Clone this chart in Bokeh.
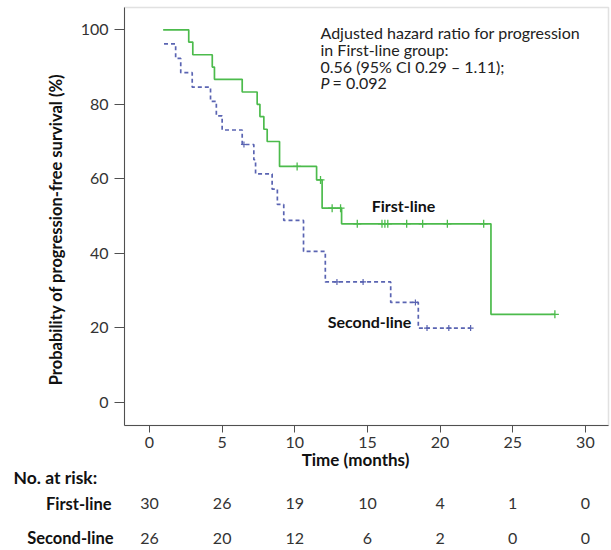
import math
from bokeh.plotting import figure
from bokeh.models import Range1d, FixedTicker, BoxAnnotation, ColumnDataSource
from bokeh.embed import file_html
from bokeh.resources import INLINE
from bokeh.core.properties import value

# ---------------- data ----------------
first_times = [0.94, 2.70, 2.98, 4.32, 4.47, 6.38, 7.41, 7.60, 7.87, 8.10, 8.95, 11.50, 11.88, 13.22, 23.50, 27.90]
first_surv = [100.0, 96.7, 93.3, 90.0, 86.7, 83.3, 80.0, 76.7, 73.3, 70.0, 63.3, 59.7, 52.1, 47.9, 23.6, 23.6]
first_cens_t = [10.16, 11.77, 12.57, 13.15, 14.30, 16.00, 16.20, 16.40, 17.70, 18.80, 20.50, 23.00, 27.90]
first_cens_s = [63.3, 59.7, 52.1, 52.1, 47.9, 47.9, 47.9, 47.9, 47.9, 47.9, 47.9, 47.9, 23.6]

second_times = [1.00, 1.80, 2.15, 2.94, 4.20, 4.60, 5.00, 6.38, 7.18, 7.30, 8.44, 8.80, 9.24, 10.60, 12.10, 16.60, 18.50, 22.10]
second_surv = [96.2, 92.3, 88.5, 84.6, 80.8, 76.9, 73.1, 69.2, 65.1, 61.3, 57.2, 53.1, 48.8, 40.5, 32.3, 26.8, 19.9, 19.9]
second_cens_t = [6.50, 12.90, 14.70, 18.30, 19.10, 20.60, 22.10]
second_cens_s = [69.2, 32.3, 32.3, 26.8, 19.9, 19.9, 19.9]

x_ticks = [0, 5, 10, 15, 20, 25, 30]
y_ticks = [0, 20, 40, 60, 80, 100]

risk_times = [0, 5, 10, 15, 20, 25, 30]
first_risk = [30, 26, 19, 10, 4, 1, 0]
second_risk = [26, 20, 12, 6, 2, 0, 0]
risk_groups = ["First-line", "Second-line"]

x_title = "Time (months)"
y_title = "Probability of progression-free survival (%)"
risk_title = "No. at risk:"
annotation_lines = ["Adjusted hazard ratio for progression", "in First-line group:", "0.56 (95% CI 0.29 \u2013 1.11);"]
p_label = "P"
p_value = "= 0.092"

# ---------------- styling / layout ----------------
FONT = "Lato"
GREEN = "#4cbb4c"
BLUE = "#5a64b2"
W, H = 611, 550
PX_T0, PX_PER_T = 149.0, 14.53      # canvas x of t=0, pixels per month
PY_V0, PX_PER_V = 401.7, 3.724      # canvas y of 0 %, pixels per %


def px2x(px):
    return (px - PX_T0) / PX_PER_T


def px2y(py):
    return (PY_V0 - py) / PX_PER_V


# plot box (frame of the survival chart) in canvas pixels
BOX_L, BOX_R, BOX_T, BOX_B = 124, 608, 7, 425
X0, X1 = px2x(BOX_L), px2x(BOX_R)
Y0, Y1 = px2y(BOX_B), px2y(BOX_T)

p = figure(width=W, height=H, x_range=Range1d(px2x(0), px2x(W)), y_range=Range1d(px2y(H), px2y(0)),
           output_backend="svg", toolbar_location=None,
           min_border_left=0, min_border_right=0, min_border_top=0, min_border_bottom=0)
p.grid.visible = False
p.outline_line_color = None

p.add_layout(BoxAnnotation(left=X0, right=X1, bottom=Y0, top=Y1, fill_alpha=0,
                           line_color="#9a9a9a", line_width=1.5, level="underlay"))

for ax in (p.xaxis[0], p.yaxis[0]):
    ax.axis_line_color = "#505050"
    ax.major_tick_line_color = "#505050"
    ax.minor_tick_line_color = None
    ax.major_tick_in = 0
    ax.major_label_text_font = FONT
    ax.major_label_text_font_size = "16px"
    ax.major_label_text_color = "#333333"

p.xaxis.ticker = FixedTicker(ticks=x_ticks)
p.yaxis.ticker = FixedTicker(ticks=y_ticks)
p.xaxis.fixed_location = Y0
p.yaxis.fixed_location = X0
p.xaxis.bounds = (X0, X1)
p.yaxis.bounds = (Y0, Y1)
p.xaxis.major_tick_out = 7
p.yaxis.major_tick_out = 10
p.xaxis.major_label_standoff = 4
p.yaxis.major_label_standoff = 6

# survival curves
p.step(first_times, first_surv, mode="after", line_color=GREEN, line_width=1.7)
p.step(second_times, second_surv, mode="after", line_color=BLUE, line_width=1.7, line_dash="4 3")
p.scatter(first_cens_t, first_cens_s, marker="cross", size=8, line_color=GREEN, line_width=1.3)
p.scatter(second_cens_t, second_cens_s, marker="cross", size=6, line_color=BLUE, line_width=1.2)

BOLD = dict(text_font=value(FONT), text_font_style="bold", text_baseline="middle", text_color="#111111")
NORM = dict(text_font=value(FONT), text_baseline="middle", text_color="#222222")

# axis titles
p.text(x=[px2x(355)], y=[px2y(459)], text=[x_title], text_font_size="17px", text_align="center", **BOLD)
p.text(x=[px2x(55)], y=[px2y(229)], text=[y_title], angle=math.pi / 2, text_font_size="16.5px",
       text_align="center", **BOLD)

# curve labels
p.text(x=[px2x(403)], y=[px2y(204.5)], text=[risk_groups[0]], text_font_size="16px", text_align="center", **BOLD)
p.text(x=[px2x(369)], y=[px2y(321)], text=[risk_groups[1]], text_font_size="16px", text_align="center", **BOLD)

# hazard-ratio annotation
ann_y = [32.3, 49.0, 65.7]
p.text(x=[px2x(320)] * 3, y=[px2y(v) for v in ann_y], text=annotation_lines,
       text_font_size="16px", text_align="left", **NORM)
p.text(x=[px2x(320)], y=[px2y(81.5)], text=[p_label], text_font_style="italic",
       text_font_size="16px", text_align="left", **NORM)
p.text(x=[px2x(320)], y=[px2y(81.5)], text=[p_value], x_offset=12,
       text_font_size="16px", text_align="left", **NORM)

# number-at-risk table
row_first = px2y(503)
row_second = px2y(537.5)
p.text(x=[px2x(13)], y=[px2y(477)], text=[risk_title], text_font_size="17.5px", text_align="left", **BOLD)
p.text(x=[px2x(111), px2x(113)], y=[row_first, row_second], text=risk_groups,
       text_font_size="16.5px", text_align="right", **BOLD)

risk_src = ColumnDataSource(dict(
    x=risk_times + risk_times,
    y=[row_first] * len(risk_times) + [row_second] * len(risk_times),
    txt=[str(v) for v in first_risk] + [str(v) for v in second_risk],
))
p.text(x="x", y="y", text="txt", source=risk_src, text_font=value(FONT), text_font_size="16px",
       text_align="center", text_baseline="middle", text_color="#333333")

open("out.html", "w").write(file_html(p, INLINE))
